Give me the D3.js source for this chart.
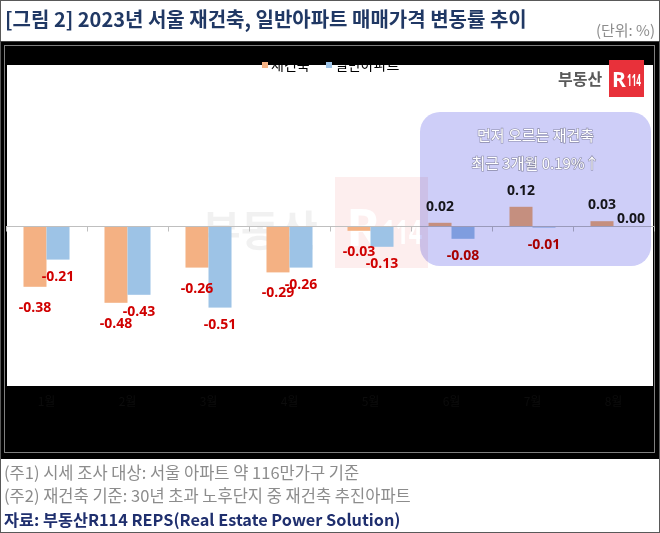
<!DOCTYPE html>
<html>
<head>
<meta charset="utf-8">
<script src="https://cdn.jsdelivr.net/npm/d3@7"></script>
<style>
  body { margin: 0; background: #fff; }
  svg { display: block; }
</style>
</head>
<body>
<svg width="660" height="533"></svg>
<script>
// data
const months = ["1월", "2월", "3월", "4월", "5월", "6월", "7월", "8월"];
const seriesNames = ["재건축", "일반아파트"];
const rebuildValues = [-0.38, -0.48, -0.26, -0.29, -0.03, 0.02, 0.12, 0.03];
const generalValues = [-0.21, -0.43, -0.51, -0.26, -0.13, -0.08, -0.01, 0.00];
const highlightMonths = ["6월", "7월", "8월"];
const highlightLines = ["먼저 오르는 재건축", "최근 3개월 0.19%↑"];
const titleText = "[그림 2] 2023년 서울 재건축, 일반아파트 매매가격 변동률 추이";
const unitText = "(단위: %)";
const noteLines = [
  "(주1) 시세 조사 대상: 서울 아파트 약 116만가구 기준",
  "(주2) 재건축 기준: 30년 초과 노후단지 중 재건축 추진아파트"
];
const sourceText = "자료: 부동산R114 REPS(Real Estate Power Solution)";

const colors = { "재건축": "#f4b183", "일반아파트": "#9dc3e6" };
const krFont = "'Noto Sans CJK KR', sans-serif";
const numFont = "'Open Sans', 'Liberation Sans', sans-serif";

const rows = months.map((m, i) => ({
  month: m,
  values: [
    { key: "재건축", value: rebuildValues[i] },
    { key: "일반아파트", value: generalValues[i] }
  ]
}));

const svg = d3.select("svg");
const W = 660, H = 533;

// frame
svg.append("rect").attr("width", W).attr("height", H).attr("fill", "#fff");

svg.append("text")
  .attr("x", 5).attr("y", 27)
  .attr("font-family", krFont).attr("font-weight", 700).attr("font-size", 20)
  .attr("fill", "#203864")
  .text(titleText);

svg.append("text")
  .attr("x", 655).attr("y", 36)
  .attr("text-anchor", "end")
  .attr("font-family", krFont).attr("font-size", 15)
  .attr("fill", "#8c8c8c")
  .text(unitText);

// chart area (black background with gray border)
svg.append("rect").attr("x", 1).attr("y", 42).attr("width", 658).attr("height", 417).attr("fill", "#000");
svg.append("rect").attr("x", 4.5).attr("y", 45.5).attr("width", 650).attr("height", 407)
  .attr("fill", "none").attr("stroke", "#7f7f7f");

// plot area
const plot = { left: 7, right: 653, top: 65, bottom: 386 };
svg.append("rect")
  .attr("x", plot.left).attr("y", plot.top)
  .attr("width", plot.right - plot.left).attr("height", plot.bottom - plot.top)
  .attr("fill", "#fff");

// scales
const x = d3.scaleBand().domain(months).range([6, 654]).paddingInner(0).paddingOuter(0);
const xSub = d3.scaleBand().domain(seriesNames).range([0, x.bandwidth()]).paddingInner(0).paddingOuter(0.76);
const y = d3.scaleLinear().domain([-1, 1]).range([386, 66]);

// watermark
const wm = svg.append("g").attr("opacity", 0.4);
wm.append("text")
  .attr("x", 202).attr("y", 246)
  .attr("font-family", krFont).attr("font-weight", 700).attr("font-size", 42)
  .attr("fill", "#dedede")
  .text("부동산");
wm.append("rect").attr("x", 335).attr("y", 177).attr("width", 93).attr("height", 91).attr("fill", "#fbd6d6");
wm.append("text")
  .attr("x", 346).attr("y", 246)
  .attr("font-family", numFont).attr("font-weight", 700).attr("font-size", 52)
  .attr("fill", "#fff")
  .text("R");
wm.append("text")
  .attr("x", 382).attr("y", 244)
  .attr("font-family", numFont).attr("font-weight", 700).attr("font-size", 34)
  .attr("textLength", 40).attr("lengthAdjust", "spacingAndGlyphs")
  .attr("fill", "#fff")
  .text("114");

// bars
const groups = svg.selectAll(".month")
  .data(rows)
  .enter().append("g")
  .attr("class", "month")
  .attr("transform", d => `translate(${x(d.month)},0)`);

groups.selectAll(".bar")
  .data(d => d.values)
  .enter().append("rect")
  .attr("class", "bar")
  .attr("x", d => xSub(d.key))
  .attr("y", d => y(Math.max(0, d.value)))
  .attr("width", xSub.bandwidth())
  .attr("height", d => Math.abs(y(d.value) - y(0)))
  .attr("fill", d => colors[d.key]);

// zero axis with category ticks
const y0 = Math.round(y(0)) + 0.5;
svg.append("line")
  .attr("x1", 6).attr("x2", 654).attr("y1", y0).attr("y2", y0)
  .attr("stroke", "#bfbfbf");
svg.selectAll(".cat-tick")
  .data(months.map(m => x(m)).concat([x(months[months.length - 1]) + x.bandwidth()]))
  .enter().append("line")
  .attr("class", "cat-tick")
  .attr("x1", d => Math.round(d) + 0.5).attr("x2", d => Math.round(d) + 0.5)
  .attr("y1", y0).attr("y2", y0 + 5)
  .attr("stroke", "#bfbfbf");

// value labels: above positive bars, below negative ones, zero set to the side
function labelX(d) {
  const cx = xSub(d.key) + xSub.bandwidth() / 2;
  return d.value === 0 ? cx + 6 : cx;
}
function labelY(d) {
  if (d.value === 0) return y(0) - 8;
  if (d.value > 0) return y(d.value) - 17;
  return y(d.value) + (d.key === "재건축" ? 20 : 16);
}
groups.selectAll(".lbl")
  .data(d => d.values)
  .enter().append("text")
  .attr("class", "lbl")
  .attr("x", labelX)
  .attr("y", labelY)
  .attr("dy", "0.35em")
  .attr("text-anchor", "middle")
  .attr("font-family", numFont).attr("font-weight", 700).attr("font-size", 14)
  .attr("fill", d => d.value >= 0 ? "#1a1a1a" : "#d00000")
  .text(d => d.value.toFixed(2));

// highlight box (multiplied over the bars)
const hx0 = x(highlightMonths[0]) + 9;
const hx1 = x(highlightMonths[highlightMonths.length - 1]) + x.bandwidth() - 3;
svg.append("rect")
  .attr("x", hx0).attr("y", 112)
  .attr("width", hx1 - hx0).attr("height", 154)
  .attr("rx", 20).attr("ry", 20)
  .attr("fill", "#cecef8")
  .style("mix-blend-mode", "multiply");

svg.selectAll(".hl-text")
  .data(highlightLines)
  .enter().append("text")
  .attr("class", "hl-text")
  .attr("x", (hx0 + hx1) / 2)
  .attr("y", (d, i) => 136 + i * 28)
  .attr("dy", "0.35em")
  .attr("text-anchor", "middle")
  .attr("font-family", krFont).attr("font-size", 15)
  .attr("fill", "#fff")
  .attr("stroke", "#8a8aa6").attr("stroke-width", 1.2)
  .attr("paint-order", "stroke")
  .text(d => d);

// legend
const legend = svg.append("g").attr("transform", "translate(262,65)");
const legendOffsets = [0, 64];
seriesNames.forEach((name, i) => {
  const g = legend.append("g").attr("transform", `translate(${legendOffsets[i]},0)`);
  g.append("rect").attr("x", 0).attr("y", -3).attr("width", 6).attr("height", 6).attr("fill", colors[name]);
  g.append("text")
    .attr("x", 9).attr("y", 0).attr("dy", "0.35em")
    .attr("font-family", krFont).attr("font-size", 14)
    .attr("fill", "#000")
    .text(name);
});

// logo
svg.append("text")
  .attr("x", 558).attr("y", 85)
  .attr("font-family", krFont).attr("font-weight", 700).attr("font-size", 16)
  .attr("fill", "#595959")
  .text("부동산");
svg.append("rect").attr("x", 609).attr("y", 60).attr("width", 35).attr("height", 37).attr("fill", "#e8313a");
svg.append("text")
  .attr("x", 612).attr("y", 87)
  .attr("font-family", numFont).attr("font-weight", 700).attr("font-size", 21)
  .attr("fill", "#fff")
  .text("R");
svg.append("text")
  .attr("x", 627).attr("y", 86)
  .attr("font-family", numFont).attr("font-weight", 700).attr("font-size", 16)
  .attr("textLength", 14).attr("lengthAdjust", "spacingAndGlyphs")
  .attr("fill", "#fff")
  .text("114");

// category labels (black on the black chart area)
const xAxis = svg.append("g")
  .attr("transform", `translate(0,${plot.bottom})`)
  .call(d3.axisBottom(x).tickSize(0).tickPadding(11));
xAxis.select(".domain").remove();
xAxis.selectAll("text")
  .attr("font-family", krFont).attr("font-size", 12)
  .attr("fill", "#0c0c0c");

// outer borders
svg.append("rect").attr("x", 0.5).attr("y", 0.5).attr("width", W - 1).attr("height", H - 1)
  .attr("fill", "none").attr("stroke", "#595959");
svg.append("line").attr("x1", 0).attr("x2", W).attr("y1", 41.5).attr("y2", 41.5).attr("stroke", "#404040");

// notes
svg.selectAll(".note")
  .data(noteLines)
  .enter().append("text")
  .attr("class", "note")
  .attr("x", 4)
  .attr("y", (d, i) => 473 + i * 23)
  .attr("dy", "0.35em")
  .attr("font-family", krFont).attr("font-size", 16.5)
  .attr("fill", "#8c8c8c")
  .text(d => d);

svg.append("text")
  .attr("x", 4).attr("y", 520).attr("dy", "0.35em")
  .attr("font-family", krFont).attr("font-weight", 700).attr("font-size", 16.3)
  .attr("fill", "#1f2f6e")
  .text(sourceText);
</script>
</body>
</html>
